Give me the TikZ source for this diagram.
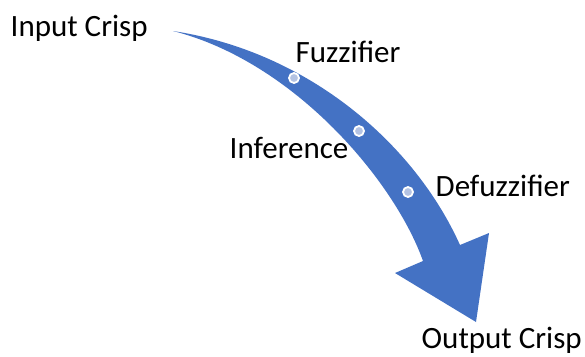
\documentclass[tikz,border=0pt]{standalone}
\usepackage{fontspec}
\setmainfont{Carlito}
\definecolor{flowblue}{HTML}{4472C4}
\definecolor{dotfill}{HTML}{B4C3E3}
\begin{document}
\begin{tikzpicture}[x=1pt,y=-1pt,
  label/.style={anchor=base west,inner sep=0pt,font=\fontsize{31}{36}\selectfont,text=black},
  stagedot/.style={circle,fill=dotfill,draw=white,line width=1.8pt,minimum size=10pt,inner sep=0pt}]
  \useasboundingbox (0,0) rectangle (585,356);

  % curved flow arrow
  \coordinate (tail) at (173,31);
  \coordinate (rj) at (460,245);
  \coordinate (rb) at (489,233);
  \coordinate (tip) at (476,322);
  \coordinate (lb) at (395,273);
  \coordinate (lj) at (423,261);
  \fill[flowblue] (tail) .. controls (310,52) and (415,145) .. (rj)
    -- (rb) -- (tip) -- (lb) -- (lj)
    .. controls (395,182) and (295,62) .. (tail) -- cycle;

  % stage markers on the arrow
  \node[stagedot] (d1) at (294,78) {};
  \node[stagedot] (d2) at (359,131) {};
  \node[stagedot] (d3) at (408,192) {};

  % labels
  \node[label] (in) at (10.5,36.7) {Input Crisp};
  \node[label] (fz) at (295.5,62.3) {Fuzzifier};
  \node[label] (inf) at (229.5,158) {Inference};
  \node[label] (dfz) at (435.5,196) {Defuzzifier};
  \node[label] (out) at (421.5,348) {Output Crisp};
\end{tikzpicture}
\end{document}
